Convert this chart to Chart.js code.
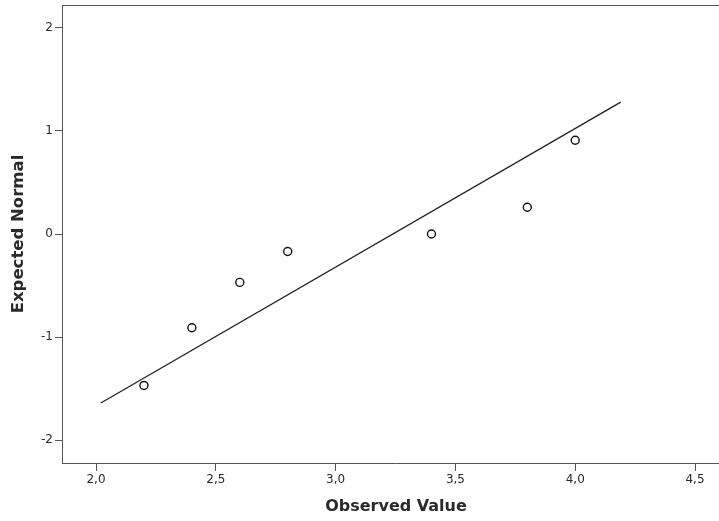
<!DOCTYPE html>
<html>
<head>
<meta charset="utf-8">
<script src="https://cdn.jsdelivr.net/npm/chart.js@4/dist/chart.umd.min.js"></script>
<style>
  html, body { margin: 0; padding: 0; background: #fff; overflow: hidden; width: 719px; height: 521px; }
  #wrap { width: 730px; height: 521px; position: relative; }
</style>
</head>
<body>
<div id="wrap"><canvas id="c"></canvas></div>
<script>
const observedValues = [2.2, 2.4, 2.6, 2.8, 3.4, 3.8, 4.0];
const expectedNormal = [-1.47, -0.91, -0.47, -0.17, 0.0, 0.26, 0.91];
// Reference line end points
const lineX = [2.02, 4.19];
const lineY = [-1.64, 1.28];
// Tick values
const xTickValues = [2.0, 2.5, 3.0, 3.5, 4.0, 4.5];
const yTickValues = [-2, -1, 0, 1, 2];

const pointData = observedValues.map((x, i) => ({ x: x, y: expectedNormal[i] }));
const lineData = lineX.map((x, i) => ({ x: x, y: lineY[i] }));

const textColor = '#2a2a2a';
const axisColor = '#555';

const topBorder = {
  id: 'topBorder',
  afterDraw(chart) {
    const { ctx, chartArea } = chart;
    ctx.save();
    ctx.strokeStyle = axisColor;
    ctx.lineWidth = 1;
    ctx.beginPath();
    ctx.moveTo(chartArea.left, chartArea.top + 0.5);
    ctx.lineTo(chartArea.right, chartArea.top + 0.5);
    ctx.stroke();
    ctx.restore();
  }
};

new Chart(document.getElementById('c'), {
  type: 'scatter',
  data: {
    datasets: [
      {
        label: 'Line',
        data: lineData,
        showLine: true,
        borderColor: '#222',
        borderWidth: 1.3,
        pointRadius: 0,
        fill: false,
        order: 2
      },
      {
        label: 'Observed',
        data: pointData,
        pointStyle: 'circle',
        pointRadius: 4,
        pointBorderWidth: 1.4,
        pointBorderColor: '#111',
        pointBackgroundColor: 'rgba(255,255,255,0)',
        order: 1
      }
    ]
  },
  options: {
    responsive: true,
    maintainAspectRatio: false,
    animation: false,
    layout: { autoPadding: false, padding: { top: 5, left: 0, right: 0, bottom: 0 } },
    plugins: { legend: { display: false }, tooltip: { enabled: false } },
    scales: {
      x: {
        type: 'linear',
        min: 1.858,
        max: 4.646,
        afterBuildTicks: s => { s.ticks = xTickValues.map(v => ({ value: v })); },
        afterFit: s => { s.height = 58; s.paddingLeft = 0; s.paddingRight = 0; },
        grid: { drawOnChartArea: false, drawTicks: true, tickLength: 8, color: axisColor, tickColor: axisColor },
        border: { display: true, color: axisColor, width: 1 },
        ticks: {
          color: textColor,
          padding: 2,
          maxRotation: 0,
          font: { family: 'DejaVu Sans', size: 12 },
          callback: v => Number(v).toFixed(1).replace('.', ',')
        },
        title: {
          display: true,
          text: 'Observed Value',
          color: textColor,
          font: { family: 'DejaVu Sans', size: 16, weight: 'bold' },
          padding: { top: 0, bottom: 5 }
        }
      },
      y: {
        type: 'linear',
        min: -2.223,
        max: 2.223,
        afterBuildTicks: s => { s.ticks = yTickValues.map(v => ({ value: v })); },
        afterFit: s => { s.width = 62; s.paddingTop = 0; s.paddingBottom = 0; },
        grid: { drawOnChartArea: false, drawTicks: true, tickLength: 7, color: axisColor, tickColor: axisColor },
        border: { display: true, color: axisColor, width: 1 },
        ticks: {
          color: textColor,
          padding: 2,
          font: { family: 'DejaVu Sans', size: 12 },
          callback: v => String(v)
        },
        title: {
          display: true,
          text: 'Expected Normal',
          color: textColor,
          font: { family: 'DejaVu Sans', size: 16.5, weight: 'bold' },
          padding: { top: 9, bottom: 0 }
        }
      }
    }
  },
  plugins: [topBorder]
});
</script>
</body>
</html>
